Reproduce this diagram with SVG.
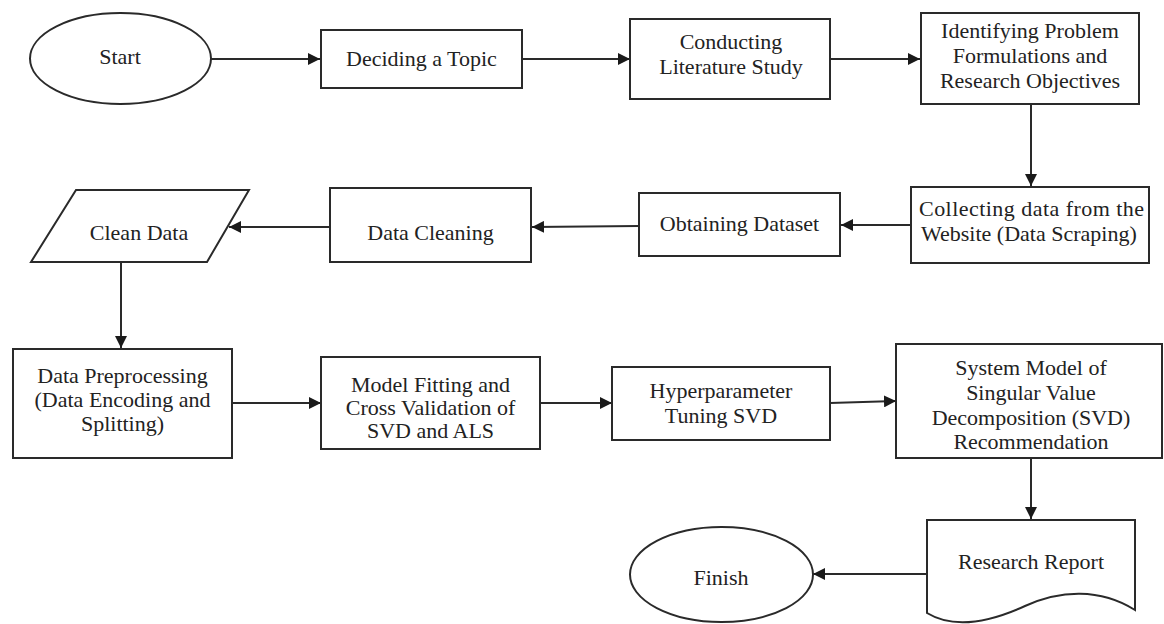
<svg xmlns="http://www.w3.org/2000/svg" width="1164" height="624" viewBox="0 0 1164 624">
<defs>
<marker id="arr" markerUnits="userSpaceOnUse" markerWidth="13" markerHeight="12" refX="12" refY="6" orient="auto">
<path d="M0,0 L12,6 L0,12 Z" fill="#1a1a1a"/>
</marker>
<style>
.s{fill:#fff;stroke:#2a2a2a;stroke-width:2}
.t{font-family:"Liberation Serif","Times New Roman",serif;font-size:22px;fill:#222;text-anchor:middle}
.c{fill:none;stroke:#2a2a2a;stroke-width:2;marker-end:url(#arr)}
</style>
</defs>
<rect width="1164" height="624" fill="#fff"/>
<g id="connectors">
<line class="c" x1="211" y1="59" x2="320" y2="59"/>
<line class="c" x1="522" y1="59" x2="630" y2="59"/>
<line class="c" x1="830" y1="59" x2="920" y2="59"/>
<line class="c" x1="1031" y1="104" x2="1031" y2="186"/>
<line class="c" x1="911" y1="225" x2="841" y2="225"/>
<line class="c" x1="639" y1="226" x2="532" y2="227"/>
<line class="c" x1="330" y1="227" x2="229" y2="227"/>
<line class="c" x1="121" y1="262" x2="121" y2="348"/>
<line class="c" x1="232" y1="403" x2="321" y2="403"/>
<line class="c" x1="540" y1="403" x2="612" y2="403"/>
<line class="c" x1="830" y1="403" x2="896" y2="401"/>
<line class="c" x1="1031" y1="458" x2="1031" y2="519"/>
<line class="c" x1="927" y1="574" x2="813" y2="574"/>
</g>
<g id="start">
<ellipse class="s" cx="120.5" cy="58.5" rx="90.5" ry="45.5"/>
<text class="t" x="120" y="64">Start</text>
</g>
<g id="deciding">
<rect class="s" x="321" y="30" width="201" height="58"/>
<text class="t" x="421.5" y="66">Deciding a Topic</text>
</g>
<g id="conducting">
<rect class="s" x="630" y="19" width="200" height="80"/>
<text class="t" x="731" y="49">Conducting</text>
<text class="t" x="731" y="74">Literature Study</text>
</g>
<g id="identifying">
<rect class="s" x="921" y="13" width="218" height="91"/>
<text class="t" x="1030" y="38">Identifying Problem</text>
<text class="t" x="1030" y="63">Formulations and</text>
<text class="t" x="1030" y="88">Research Objectives</text>
</g>
<g id="collecting">
<rect class="s" x="911" y="187" width="238" height="76"/>
<text class="t" x="919" y="216" style="text-anchor:start" textLength="225" lengthAdjust="spacing">Collecting data from the</text>
<text class="t" x="921" y="241" style="text-anchor:start">Website (Data Scraping)</text>
</g>
<g id="obtaining">
<rect class="s" x="639" y="193" width="201" height="63"/>
<text class="t" x="739.5" y="231">Obtaining Dataset</text>
</g>
<g id="cleaning">
<rect class="s" x="330" y="188" width="201" height="74"/>
<text class="t" x="430.5" y="240">Data Cleaning</text>
</g>
<g id="cleandata">
<polygon class="s" points="76,190 249,190 207,262 31,262"/>
<text class="t" x="139" y="240">Clean Data</text>
</g>
<g id="preprocessing">
<rect class="s" x="13" y="349" width="219" height="109"/>
<text class="t" x="122.5" y="383">Data Preprocessing</text>
<text class="t" x="122.5" y="407">(Data Encoding and</text>
<text class="t" x="122.5" y="431">Splitting)</text>
</g>
<g id="fitting">
<rect class="s" x="321" y="357" width="219" height="92"/>
<text class="t" x="430.5" y="392">Model Fitting and</text>
<text class="t" x="430.5" y="415">Cross Validation of</text>
<text class="t" x="430.5" y="438">SVD and ALS</text>
</g>
<g id="tuning">
<rect class="s" x="612" y="367" width="218" height="73"/>
<text class="t" x="721" y="398">Hyperparameter</text>
<text class="t" x="721" y="423">Tuning SVD</text>
</g>
<g id="system">
<rect class="s" x="896" y="344" width="266" height="114"/>
<text class="t" x="1031" y="375">System Model of</text>
<text class="t" x="1031" y="400">Singular Value</text>
<text class="t" x="1031" y="425">Decomposition (SVD)</text>
<text class="t" x="1031" y="449">Recommendation</text>
</g>
<g id="report">
<path class="s" d="M927,520 H1135 V610 C1100,588 1060,590 1025,606 C990,622 955,630 927,613 Z"/>
<text class="t" x="1031" y="569">Research Report</text>
</g>
<g id="finish">
<ellipse class="s" cx="721.5" cy="574.5" rx="91.5" ry="47.5"/>
<text class="t" x="721" y="585">Finish</text>
</g>
</svg>
